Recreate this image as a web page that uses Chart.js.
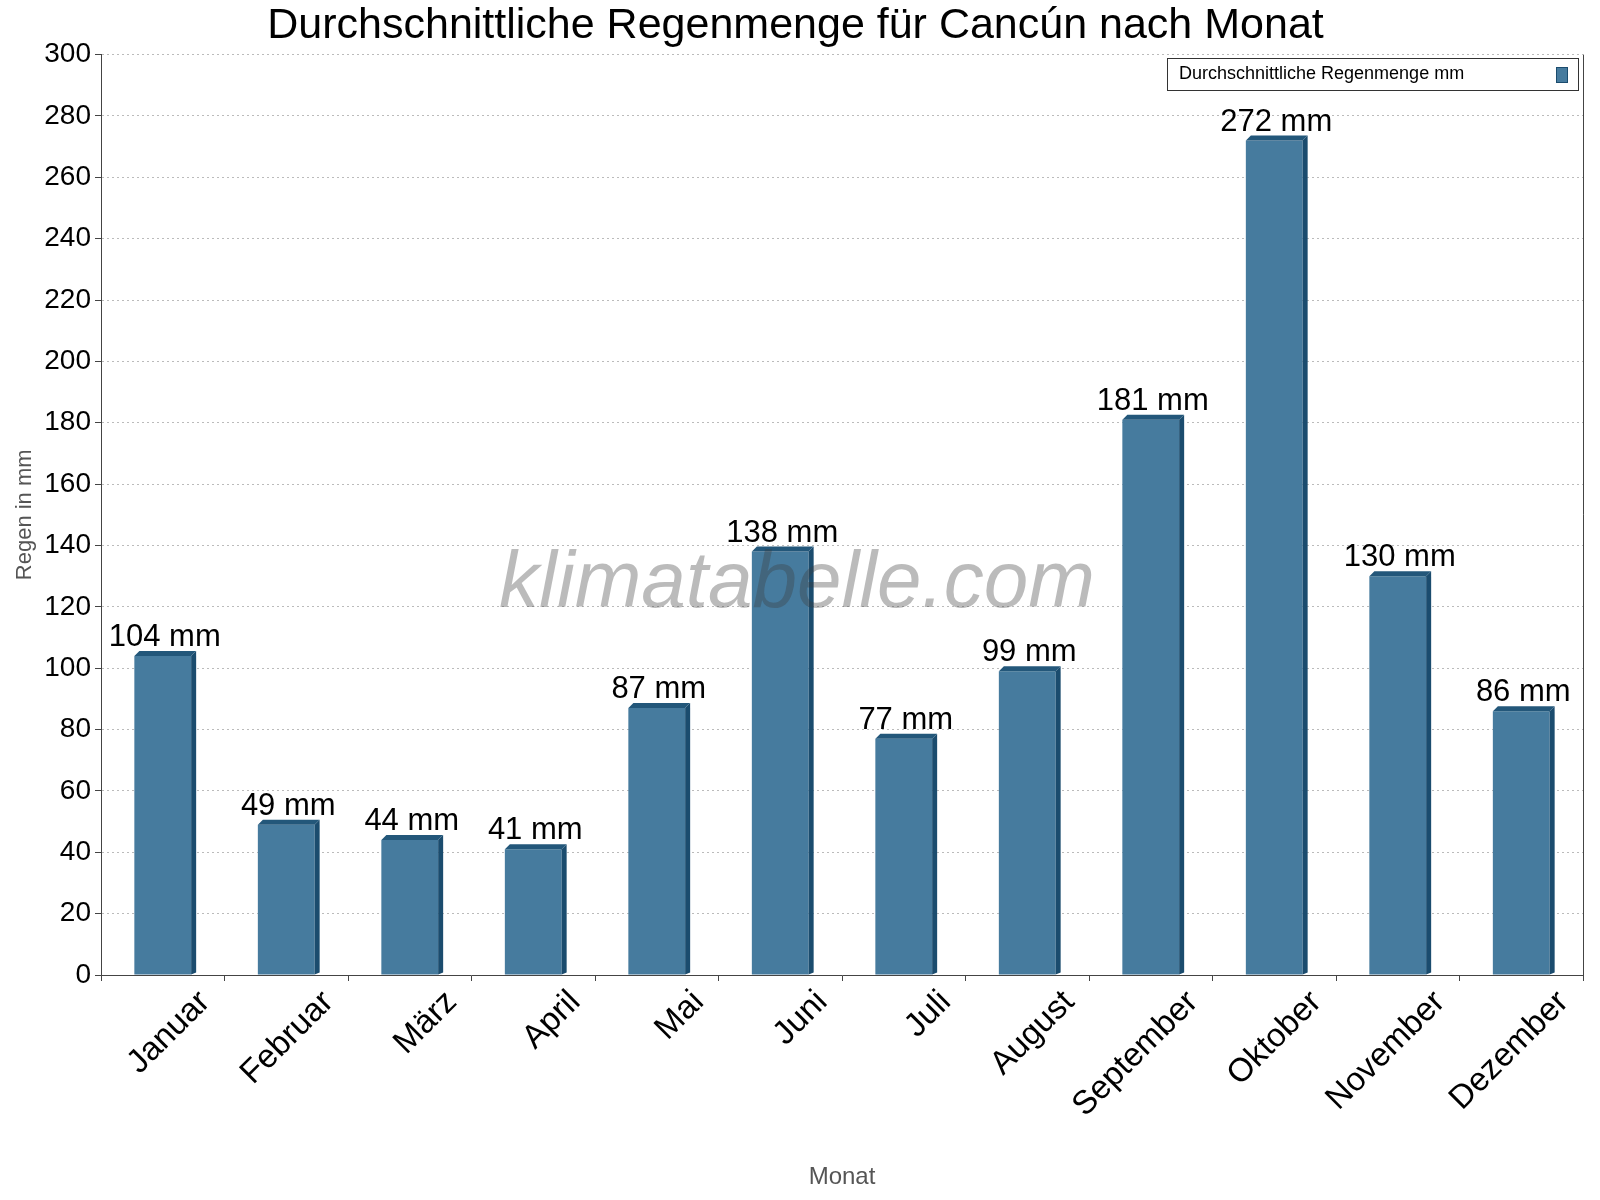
<!DOCTYPE html>
<html><head><meta charset="utf-8">
<script src="https://cdn.jsdelivr.net/npm/chart.js@4"></script>
<style>html,body{margin:0;padding:0;background:#fff}#w{width:1600px;height:1200px}</style>
</head><body><div id="w"><canvas id="c"></canvas></div>
<script>
const months = ["Januar","Februar","März","April","Mai","Juni","Juli","August","September","Oktober","November","Dezember"];
const rain = [104,49,44,41,87,138,77,99,181,272,130,86];
const seriesLabel = "Durchschnittliche Regenmenge mm";
const titleText = "Durchschnittliche Regenmenge für Cancún nach Monat";
const FONT = "'Liberation Sans', Arial, sans-serif";

const deco = {
  id:'deco',
  beforeDatasetsDraw(chart){
    const ctx=chart.ctx, a=chart.chartArea;
    ctx.save();
    ctx.strokeStyle="#444"; ctx.lineWidth=1;
    ctx.beginPath(); ctx.moveTo(a.right+0.5,a.top); ctx.lineTo(a.right+0.5,a.bottom); ctx.stroke();
    ctx.restore();
  },
  afterDatasetsDraw(chart){
    const ctx=chart.ctx, a=chart.chartArea, d=5;
    ctx.save();
    chart.getDatasetMeta(0).data.forEach((b,i)=>{
      const l=b.x-b.width/2, r=b.x+b.width/2, t=b.y, bot=b.base;
      ctx.fillStyle="#1b4c6e";
      ctx.beginPath(); ctx.moveTo(r,bot); ctx.lineTo(r,t); ctx.lineTo(r+d,t-d); ctx.lineTo(r+d,bot-2); ctx.closePath(); ctx.fill();
      ctx.fillStyle="#23577a";
      ctx.beginPath(); ctx.moveTo(l,t); ctx.lineTo(l+d,t-d); ctx.lineTo(r+d,t-d); ctx.lineTo(r,t); ctx.closePath(); ctx.fill();
    });
    ctx.font="italic 80px "+FONT; ctx.fillStyle="rgba(60,60,60,0.35)";
    ctx.textAlign="center"; ctx.textBaseline="middle";
    ctx.fillText("klimatabelle.com",(a.left+a.right)/2-45,585);
    chart.getDatasetMeta(0).data.forEach((b,i)=>{
      ctx.font="31px "+FONT; ctx.fillStyle="#000"; ctx.textAlign="center"; ctx.textBaseline="bottom";
      ctx.fillText(rain[i]+" mm", b.x+2, b.y-3);
    });
    // legend
    ctx.font="18px "+FONT; ctx.textBaseline="middle"; ctx.textAlign="left";
    const bx=1167, by=58, bw=a.right-5-bx, bh=32;
    ctx.fillStyle="#fff"; ctx.fillRect(bx,by,bw,bh);
    ctx.strokeStyle="#333"; ctx.lineWidth=1; ctx.strokeRect(bx+0.5,by+0.5,bw,bh);
    ctx.fillStyle="#000"; ctx.fillText(seriesLabel,bx+12,by+bh/2);
    ctx.fillStyle="#467b9e"; ctx.fillRect(bx+bw-22,by+9,11,15);
    ctx.strokeStyle="#1b4c6e"; ctx.strokeRect(bx+bw-22+0.5,by+9.5,11,15);
    ctx.restore();
  }
};

new Chart(document.getElementById('c'),{
  type:'bar',
  data:{labels:months,datasets:[{label:seriesLabel,data:rain,backgroundColor:"#467b9e",barPercentage:0.46,categoryPercentage:1}]},
  options:{
    responsive:true,maintainAspectRatio:false,animation:false,
    layout:{padding:{left:8,right:17,top:0,bottom:8}},
    plugins:{legend:{display:false},tooltip:{enabled:false},
      title:{display:true,text:titleText,color:"#000",font:{family:FONT,size:43,weight:'normal'},padding:{top:0,bottom:3}}},
    scales:{
      y:{min:0,max:300,ticks:{stepSize:20,color:"#000",font:{family:FONT,size:28},padding:4},
        grid:{color:"#bbb",borderDash:[2,3],tickColor:"#444",tickLength:6},
        border:{color:"#444",dash:[2,3]},
        title:{display:true,text:"Regen in mm",color:"#555",font:{family:FONT,size:22},padding:4},
        afterFit(s){s.width=93;}},
      x:{ticks:{color:"#000",font:{family:FONT,size:33},minRotation:45,maxRotation:45,padding:2,labelOffset:42},
        grid:{display:true,offset:true,drawOnChartArea:false,tickColor:"#444",tickLength:6},
        border:{color:"#444"},
        title:{display:true,text:"Monat",color:"#555",font:{family:FONT,size:24},padding:0},
        afterFit(s){s.height=217;}}
    }
  },
  plugins:[deco]
});
</script></body></html>
